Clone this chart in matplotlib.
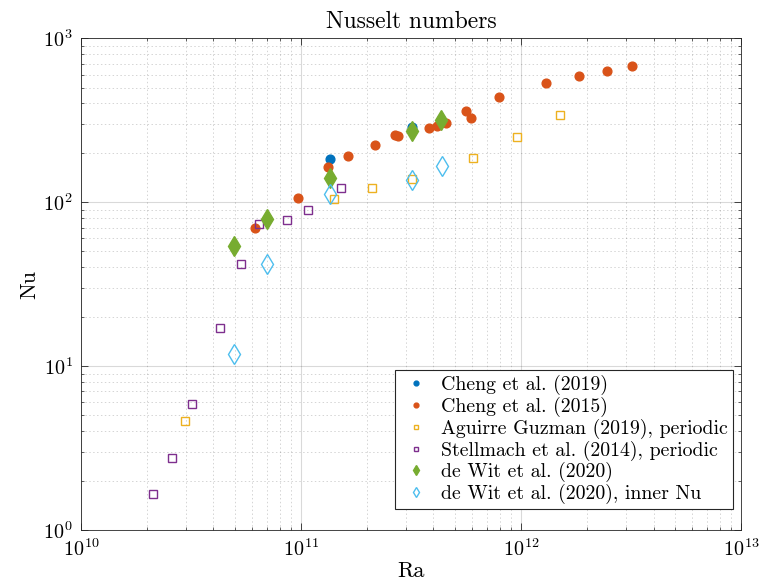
import numpy as np
import matplotlib
matplotlib.use("Agg")
import matplotlib.pyplot as plt
from matplotlib.ticker import LogLocator, NullFormatter

plt.rcParams["font.family"] = ["cmr10", "DejaVu Serif"]
plt.rcParams["mathtext.fontset"] = "cm"
plt.rcParams["axes.formatter.use_mathtext"] = True

# MATLAB default colour order
BLUE = "#0072BD"
ORANGE = "#D95319"
YELLOW = "#EDB120"
PURPLE = "#7E2F8E"
GREEN = "#77AC30"
CYAN = "#4DBEEE"

# Cheng et al. (2019)
cheng19_ra = [1.35e11, 3.18e11]
cheng19_nu = [183, 286]

# Cheng et al. (2015)
cheng15_ra = [6.21e10, 9.64e10, 1.32e11, 1.64e11, 2.16e11, 2.68e11, 2.75e11,
              3.81e11, 4.16e11, 4.57e11, 5.60e11, 5.92e11, 7.93e11, 1.30e12,
              1.83e12, 2.46e12, 3.21e12]
cheng15_nu = [69.7, 106, 164, 192, 222, 256, 252, 285, 290, 302, 359, 327,
              437, 534, 586, 632, 674]

# Aguirre Guzman (2019), periodic
aguirre_ra = [2.97e10, 1.41e11, 2.10e11, 3.21e11, 6.04e11, 9.59e11, 1.51e12]
aguirre_nu = [4.63, 104, 122, 138, 187, 250, 339]

# Stellmach et al. (2014), periodic
stell_ra = [2.13e10, 2.59e10, 3.21e10, 4.30e10, 5.35e10, 6.45e10, 8.60e10,
            1.08e11, 1.52e11]
stell_nu = [1.67, 2.75, 5.86, 17.1, 42.1, 73.5, 77.6, 89, 122]

# de Wit et al. (2020)
dewit_ra = [4.97e10, 7.02e10, 1.36e11, 3.20e11, 4.34e11]
dewit_nu = [54.0, 78.8, 140, 271, 316]

# de Wit et al. (2020), inner Nu
inner_ra = [4.95e10, 7.02e10, 1.36e11, 3.21e11, 4.36e11]
inner_nu = [11.8, 42.1, 112, 137, 166]


def main():
    fig = plt.figure(figsize=(7.64, 5.87), dpi=100, facecolor="white")
    ax = fig.add_axes([0.106, 0.097, 0.864, 0.838])

    ax.plot(cheng19_ra, cheng19_nu, "o", color=BLUE, ms=6.3, mec=BLUE,
            label="Cheng et al. (2019)", zorder=3)
    ax.plot(cheng15_ra, cheng15_nu, "o", color=ORANGE, ms=6.3, mec=ORANGE,
            label="Cheng et al. (2015)", zorder=3)
    ax.plot(aguirre_ra, aguirre_nu, "s", mfc="none", mec=YELLOW, ms=5.5, mew=1.0,
            label="Aguirre Guzman (2019), periodic", zorder=3)
    ax.plot(stell_ra, stell_nu, "s", mfc="none", mec=PURPLE, ms=5.5, mew=1.0,
            label="Stellmach et al. (2014), periodic", zorder=3)
    ax.plot(dewit_ra, dewit_nu, "d", color=GREEN, mec=GREEN, ms=10,
            label="de Wit et al. (2020)", zorder=4)
    ax.plot(inner_ra, inner_nu, "d", mfc="none", mec=CYAN, ms=10, mew=1.0,
            label="de Wit et al. (2020), inner Nu", zorder=4)

    ax.set_xscale("log")
    ax.set_yscale("log")
    ax.set_xlim(1e10, 1e13)
    ax.set_ylim(1, 1e3)
    ax.xaxis.set_major_locator(LogLocator(base=10, numticks=10))
    ax.yaxis.set_major_locator(LogLocator(base=10, numticks=10))
    ax.xaxis.set_minor_locator(LogLocator(base=10, subs=np.arange(2, 10), numticks=20))
    ax.yaxis.set_minor_locator(LogLocator(base=10, subs=np.arange(2, 10), numticks=20))
    ax.xaxis.set_minor_formatter(NullFormatter())
    ax.yaxis.set_minor_formatter(NullFormatter())

    ax.grid(True, which="major", color="#000000", alpha=0.15, lw=0.8, ls="-")
    ax.grid(True, which="minor", color="#000000", alpha=0.17, lw=0.7, ls=(0, (1.5, 2.5)))
    ax.set_axisbelow(True)

    ax.tick_params(which="both", direction="in", top=True, right=True,
                   color="#262626", labelsize=14.5)
    ax.tick_params(which="major", length=5, width=0.6, pad=6)
    ax.tick_params(which="minor", length=2.5, width=0.5)
    for s in ax.spines.values():
        s.set_color("#262626")
        s.set_linewidth(0.6)

    ax.set_title("Nusselt numbers", fontsize=17, pad=7)
    ax.set_xlabel("Ra", fontsize=16, labelpad=1)
    ax.set_ylabel("Nu", fontsize=16, labelpad=3)

    leg = ax.legend(loc="lower right", bbox_to_anchor=(0.988, 0.043), fontsize=14.3,
                    frameon=True, fancybox=False, edgecolor="#262626",
                    framealpha=1, borderpad=0.25, labelspacing=0.08,
                    borderaxespad=0, handlelength=1.6, handletextpad=0.5,
                    markerscale=0.55)
    leg.get_frame().set_linewidth(0.8)

    fig.savefig("out.png", dpi=100)


if __name__ == "__main__":
    main()
